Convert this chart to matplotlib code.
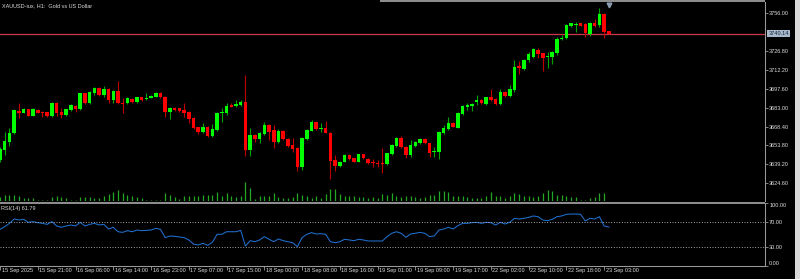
import matplotlib
matplotlib.use("Agg")
import matplotlib.pyplot as plt
from matplotlib.patches import Rectangle
from matplotlib.transforms import ScaledTranslation, blended_transform_factory

# ---------------- data ----------------
opens = [3642.6, 3650.3, 3656.8, 3663.2, 3680.7, 3679.2, 3681.8, 3676.9, 3681.3, 3680.0,
         3679.4, 3676.6, 3686.9, 3680.0, 3677.4, 3681.3, 3684.6, 3682.0, 3694.1, 3686.4,
         3694.1, 3698.5, 3692.8, 3697.5, 3689.0, 3695.9, 3686.9, 3686.4, 3689.8, 3687.7,
         3691.0, 3689.5, 3690.8, 3691.6, 3694.6, 3691.6, 3679.4, 3683.1, 3682.5, 3681.3,
         3680.0, 3675.3, 3667.8, 3664.5, 3668.4, 3661.1, 3665.8, 3678.7, 3678.7, 3685.1,
         3684.3, 3685.1, 3687.2, 3650.3, 3661.9, 3658.8, 3662.7, 3669.6, 3665.8, 3656.8,
         3665.0, 3658.8, 3654.2, 3652.1, 3636.9, 3658.8, 3665.3, 3672.2, 3666.6, 3667.1,
         3663.7, 3642.6, 3638.0, 3641.3, 3646.5, 3643.9, 3641.3, 3647.0, 3643.4, 3640.8,
         3640.5, 3640.3, 3639.2, 3647.0, 3653.4, 3659.3, 3652.9, 3646.5, 3653.4, 3655.5,
         3658.8, 3655.5, 3648.8, 3649.0, 3663.2, 3666.6, 3671.5, 3667.6, 3678.2, 3683.8,
         3684.6, 3687.7, 3689.0, 3685.9, 3691.0, 3689.8, 3685.9, 3695.4, 3692.1, 3696.7,
         3715.3, 3713.0, 3719.9, 3722.5, 3727.6, 3725.0, 3722.0, 3722.0, 3725.6, 3735.9,
         3736.7, 3746.4, 3747.2, 3748.2, 3747.5, 3739.7, 3748.2, 3746.9, 3755.2, 3742.0]
highs = [3652.4, 3664.5, 3667.1, 3682.0, 3686.4, 3682.8, 3682.3, 3682.5, 3682.0, 3680.5,
         3680.0, 3687.4, 3687.7, 3682.5, 3682.3, 3685.9, 3685.1, 3694.6, 3694.6, 3695.9,
         3699.3, 3699.0, 3699.8, 3698.0, 3696.7, 3703.9, 3690.3, 3691.0, 3690.3, 3691.6,
         3691.6, 3694.6, 3692.8, 3695.2, 3695.2, 3692.1, 3683.8, 3683.6, 3683.1, 3686.4,
         3680.5, 3675.8, 3668.4, 3671.5, 3668.9, 3670.2, 3679.7, 3682.5, 3686.4, 3686.9,
         3689.0, 3689.0, 3708.3, 3667.1, 3662.7, 3664.5, 3672.2, 3670.4, 3669.6, 3666.3,
         3665.8, 3659.3, 3659.4, 3652.9, 3660.6, 3666.6, 3673.5, 3673.0, 3670.9, 3673.0,
         3664.5, 3646.5, 3642.1, 3647.2, 3647.0, 3644.4, 3647.5, 3647.5, 3643.9, 3643.1,
         3642.6, 3651.6, 3648.3, 3655.0, 3660.1, 3661.1, 3653.4, 3658.1, 3657.3, 3659.3,
         3659.3, 3656.0, 3652.4, 3665.3, 3669.6, 3676.1, 3672.0, 3679.7, 3684.9, 3686.9,
         3686.4, 3692.8, 3689.5, 3691.6, 3697.2, 3690.3, 3697.2, 3695.9, 3700.6, 3719.9,
         3719.0, 3721.0, 3726.0, 3728.9, 3728.9, 3725.6, 3726.3, 3727.1, 3737.4, 3739.2,
         3747.8, 3748.8, 3749.5, 3748.8, 3748.2, 3749.5, 3751.3, 3759.8, 3756.0, 3742.3]
lows = [3641.3, 3646.5, 3653.4, 3662.7, 3674.8, 3678.7, 3676.4, 3676.4, 3678.7, 3676.1,
        3676.1, 3676.1, 3676.6, 3674.8, 3676.9, 3680.5, 3680.0, 3681.5, 3685.9, 3685.9,
        3692.8, 3692.3, 3691.6, 3686.4, 3686.4, 3685.9, 3678.7, 3685.6, 3686.4, 3686.9,
        3688.5, 3689.0, 3690.3, 3691.0, 3690.5, 3676.1, 3674.3, 3680.7, 3680.0, 3676.1,
        3670.9, 3666.6, 3662.7, 3663.7, 3660.6, 3660.1, 3665.3, 3672.2, 3677.4, 3683.3,
        3683.8, 3684.6, 3645.7, 3645.7, 3656.8, 3655.5, 3661.9, 3658.1, 3651.6, 3656.0,
        3658.1, 3652.9, 3649.0, 3634.4, 3634.9, 3658.1, 3664.8, 3665.8, 3664.5, 3663.2,
        3627.9, 3634.4, 3637.4, 3640.8, 3642.6, 3640.8, 3640.8, 3643.4, 3639.5, 3637.4,
        3636.9, 3632.3, 3638.7, 3646.5, 3652.9, 3651.9, 3643.9, 3644.7, 3652.9, 3655.0,
        3655.0, 3645.2, 3644.7, 3643.4, 3662.7, 3666.0, 3667.8, 3667.1, 3677.6, 3681.3,
        3680.7, 3685.1, 3685.9, 3685.4, 3688.5, 3685.4, 3685.4, 3691.6, 3691.6, 3695.4,
        3709.0, 3712.2, 3718.5, 3721.2, 3721.2, 3711.6, 3713.5, 3716.8, 3723.8, 3735.4,
        3736.1, 3745.7, 3741.8, 3745.9, 3737.9, 3738.7, 3745.7, 3745.7, 3736.6, 3739.9]
closes = [3650.8, 3657.5, 3663.7, 3681.2, 3679.2, 3682.0, 3676.9, 3681.8, 3679.2, 3678.7,
          3676.9, 3686.9, 3679.2, 3677.4, 3681.8, 3685.1, 3682.0, 3694.1, 3686.4, 3695.2,
          3698.5, 3692.8, 3697.5, 3689.0, 3695.9, 3686.4, 3686.2, 3690.3, 3687.2, 3691.0,
          3689.0, 3690.5, 3692.3, 3694.4, 3691.0, 3679.4, 3682.5, 3681.3, 3680.7, 3678.7,
          3674.3, 3667.1, 3664.5, 3668.4, 3661.1, 3666.6, 3679.2, 3679.4, 3684.3, 3683.8,
          3685.6, 3687.2, 3650.3, 3661.9, 3658.8, 3663.7, 3669.6, 3664.5, 3656.8, 3665.3,
          3658.6, 3653.4, 3650.8, 3636.9, 3659.3, 3665.8, 3672.2, 3666.6, 3667.1, 3663.7,
          3642.1, 3638.0, 3641.3, 3646.5, 3643.1, 3641.3, 3647.0, 3643.9, 3640.0, 3640.3,
          3639.5, 3639.8, 3647.8, 3654.2, 3659.3, 3652.4, 3646.5, 3654.2, 3656.8, 3658.8,
          3655.5, 3648.3, 3649.8, 3664.0, 3667.1, 3671.5, 3668.4, 3679.2, 3684.3, 3685.1,
          3685.6, 3689.0, 3686.4, 3691.0, 3689.0, 3685.9, 3695.4, 3692.1, 3697.2, 3714.7,
          3713.5, 3719.9, 3724.6, 3728.2, 3724.5, 3721.7, 3723.0, 3726.3, 3736.1, 3737.2,
          3747.0, 3748.2, 3748.0, 3746.4, 3740.5, 3748.2, 3746.4, 3755.2, 3741.8, 3740.14]
volumes = [1200, 1800, 1800, 1800, 1590, 900, 900, 900, 300, 300,
           300, 1110, 1410, 1110, 900, 200, 200, 1110, 1110, 1110,
           900, 900, 1410, 2100, 2700, 3300, 2500, 1890, 1410, 1110,
           900, 300, 250, 250, 300, 2400, 1890, 1110, 750, 1410,
           1590, 1590, 1590, 1800, 1890, 1800, 2610, 1590, 2400, 1410,
           1110, 1590, 5790, 4000, 690, 1410, 1590, 1410, 2400, 1110,
           900, 900, 1110, 2400, 1890, 1410, 900, 1590, 900, 2100,
           3600, 3510, 2100, 1410, 1410, 1590, 1110, 1110, 900, 1110,
           900, 2100, 1890, 2400, 1590, 1110, 1410, 1590, 1110, 900,
           1110, 1890, 1890, 3000, 3000, 2610, 1410, 1590, 1410, 1110,
           810, 900, 900, 1410, 2610, 1590, 1410, 900, 1410, 2400,
           2100, 1590, 1590, 1290, 1500, 2310, 3300, 3000, 1890, 1710,
           1500, 1200, 1290, 300, 210, 810, 1200, 2310, 2490, 150]
rsi = [58.2, 62.4, 67.7, 74.6, 73.0, 74.1, 69.3, 70.4, 68.8, 67.7,
       66.1, 70.4, 63.5, 61.4, 63.5, 65.1, 63.5, 69.3, 63.5, 66.1,
       67.7, 65.1, 66.1, 58.7, 61.4, 54.4, 53.4, 56.1, 54.4, 57.1,
       56.1, 56.6, 57.1, 59.8, 58.2, 45.0, 47.6, 47.1, 46.0, 45.0,
       41.3, 34.9, 33.3, 36.0, 32.8, 37.6, 50.3, 50.3, 54.4, 54.4,
       54.4, 56.6, 31.7, 40.2, 38.6, 41.3, 46.6, 42.4, 38.6, 42.9,
       40.2, 38.6, 37.0, 30.7, 45.0, 50.3, 52.9, 50.8, 51.3, 50.3,
       38.6, 37.0, 38.6, 42.4, 41.3, 40.2, 42.4, 41.3, 39.7, 39.7,
       39.7, 39.7, 46.6, 51.9, 54.4, 51.9, 45.5, 50.8, 51.9, 53.4,
       51.9, 46.6, 47.6, 57.1, 58.7, 61.4, 58.7, 64.0, 67.7, 67.7,
       68.8, 69.3, 67.7, 69.3, 68.8, 65.1, 69.3, 66.7, 69.3, 75.7,
       74.6, 75.7, 77.2, 79.4, 78.3, 73.0, 71.9, 74.1, 78.3, 79.4,
       82.0, 82.5, 82.5, 82.0, 71.4, 75.7, 74.6, 78.3, 63.5, 61.79]
time_tick_idx = [0, 8, 16, 24, 32, 40, 48, 56, 64, 72, 80, 88, 96, 104, 112, 120, 128]
time_labels = ["15 Sep 2025", "15 Sep 21:00", "16 Sep 06:00", "16 Sep 14:00", "16 Sep 23:00",
               "17 Sep 07:00", "17 Sep 15:00", "18 Sep 00:00", "18 Sep 08:00", "18 Sep 16:00",
               "19 Sep 01:00", "19 Sep 09:00", "19 Sep 17:00", "22 Sep 02:00", "22 Sep 10:00",
               "22 Sep 18:00", "23 Sep 03:00"]
price_ticks = [3756.00, 3726.80, 3712.20, 3697.60, 3683.00, 3668.40, 3653.80, 3639.20, 3624.60]
rsi_levels = [70, 30]
rsi_ticks = [100, 70, 30, 0]
title = "XAUUSD-iux, H1:  Gold vs US Dollar"
rsi_title = "RSI(14) 61.79"

# ---------------- layout ----------------
W, H = 800, 279
FONT = "Liberation Sans"
FS = 4.0
TXT = "#dcdcdc"
GRID = "#9a9a9a"

def rect(x0, y0, x1, y1):
    return [x0 / W, 1 - y1 / H, (x1 - x0) / W, (y1 - y0) / H]

fig = plt.figure(figsize=(W / 100, H / 100), dpi=100, facecolor="black")

n = len(closes)
xs = list(range(n))
bar_px = 4.72
xmax = 765 / bar_px

# main price axes
ax = fig.add_axes(rect(0, 2, 765, 201))
ax.set_xlim(0, xmax)
ax.set_ylim(3610.9, 3764.7)

# volumes (behind candles)
axv = ax.twinx()
axv.set_ylim(0, max(volumes) * 199 / 19.0)
axv.vlines(xs, 0, volumes, colors="#22a822", linewidth=0.9)
axv.set_yticks([])
for s in axv.spines.values():
    s.set_visible(False)
axv.set_zorder(ax.get_zorder() - 1)
ax.patch.set_visible(False)
axv.patch.set_facecolor("black")

up_body, dn_body = "#00ff00", "#ff0000"
up_wick, dn_wick = "#00a400", "#c00000"
for i in xs:
    o, h, l, c = opens[i], highs[i], lows[i], closes[i]
    up = c >= o
    ax.vlines(i, l, h, colors=up_wick if up else dn_wick, linewidth=0.8, zorder=2)
    lo, hi = min(o, c), max(o, c)
    hgt = max(hi - lo, 0.8)
    ax.bar(i, hgt, bottom=lo, width=0.74, color=up_body if up else dn_body,
           linewidth=0, zorder=3)

# bid line and price label
ax.axhline(closes[-1], color="#c8384a", linewidth=0.9, zorder=1)
ax.annotate(f"{closes[-1]:.2f}", xy=(1.0, closes[-1]),
            xycoords=("axes fraction", "data"),
            xytext=(2.4, 0), textcoords="offset points",
            ha="left", va="center", fontsize=FS, family=FONT, color="#14233a",
            bbox=dict(boxstyle="square,pad=0.18", fc="#a9b9cc", ec="none"),
            annotation_clip=False, zorder=10)

# shift marker triangle
ax.plot([xs[-1]], [0.985], transform=blended_transform_factory(ax.transData, ax.transAxes),
        marker="v", markersize=3.4, color="#8b9bb0", clip_on=False, zorder=5)

ax.yaxis.tick_right()
ax.set_yticks(price_ticks)
ax.set_yticklabels([f"{p:.2f}" for p in price_ticks])
ax.tick_params(axis="y", direction="out", length=2.2, width=0.6, color=GRID,
               pad=0.8, labelsize=FS, labelcolor=TXT)
for lbl in ax.get_yticklabels():
    lbl.set_family(FONT)
ax.set_xticks([])
for k, s in ax.spines.items():
    s.set_visible(k == "right")
ax.spines["right"].set_color(GRID)
ax.spines["right"].set_linewidth(0.75)

# RSI axes
ar = fig.add_axes(rect(0, 203, 765, 266))
ar.set_facecolor("black")
ar.set_xlim(0, xmax)
ar.set_ylim(0, 100)
ar.plot(xs, rsi, color="#2070d0", linewidth=0.75)
for lv in rsi_levels:
    ar.axhline(lv, color="#b8b8b8", linewidth=0.6, linestyle=(0, (1.2, 2.0)))
ar.yaxis.tick_right()
ar.set_yticks(rsi_ticks)
ar.set_yticklabels([f"{v:.2f}" for v in rsi_ticks])
ar.tick_params(axis="y", direction="out", length=2.2, width=0.6, color=GRID,
               pad=0.8, labelsize=FS, labelcolor=TXT)
for lbl in ar.get_yticklabels():
    lbl.set_family(FONT)
ylbls = ar.get_yticklabels()
ylbls[0].set_va("top")
ylbls[-1].set_va("bottom")

ar.set_xticks(time_tick_idx)
ar.set_xticklabels(time_labels)
ar.tick_params(axis="x", direction="out", length=2.6, width=0.6, color=GRID,
               pad=-0.9, labelsize=FS, labelcolor=TXT)
off = ScaledTranslation(1.6 / 100, 0, fig.dpi_scale_trans)
for lbl in ar.get_xticklabels():
    lbl.set_ha("left")
    lbl.set_family(FONT)
    lbl.set_transform(lbl.get_transform() + off)
for k, s in ar.spines.items():
    s.set_visible(k in ("right", "bottom"))
    s.set_color(GRID)
    s.set_linewidth(0.75)

# titles
fig.text(1.5 / W, 1 - 6.2 / H, title, ha="left", va="center", fontsize=FS,
         family=FONT, color=TXT)
fig.text(1.0 / W, 1 - 208.6 / H, rsi_title, ha="left", va="center", fontsize=FS,
         family=FONT, color=TXT)

# decorations: separator, top border, right window strip
fig.add_artist(Rectangle((0, 1 - 203.7 / H), 765 / W, 2.0 / H, transform=fig.transFigure,
                         fc="#8c8c8c", ec="none"))
fig.add_artist(Rectangle((380 / W, 1 - 1.8 / H), 385 / W, 1.8 / H, transform=fig.transFigure,
                         fc="#8c8c8c", ec="none"))
fig.add_artist(Rectangle((795 / W, 0), 5 / W, 1, transform=fig.transFigure,
                         fc="#d9d9d9", ec="none"))

fig.savefig("out.png", dpi=100, facecolor="black")
